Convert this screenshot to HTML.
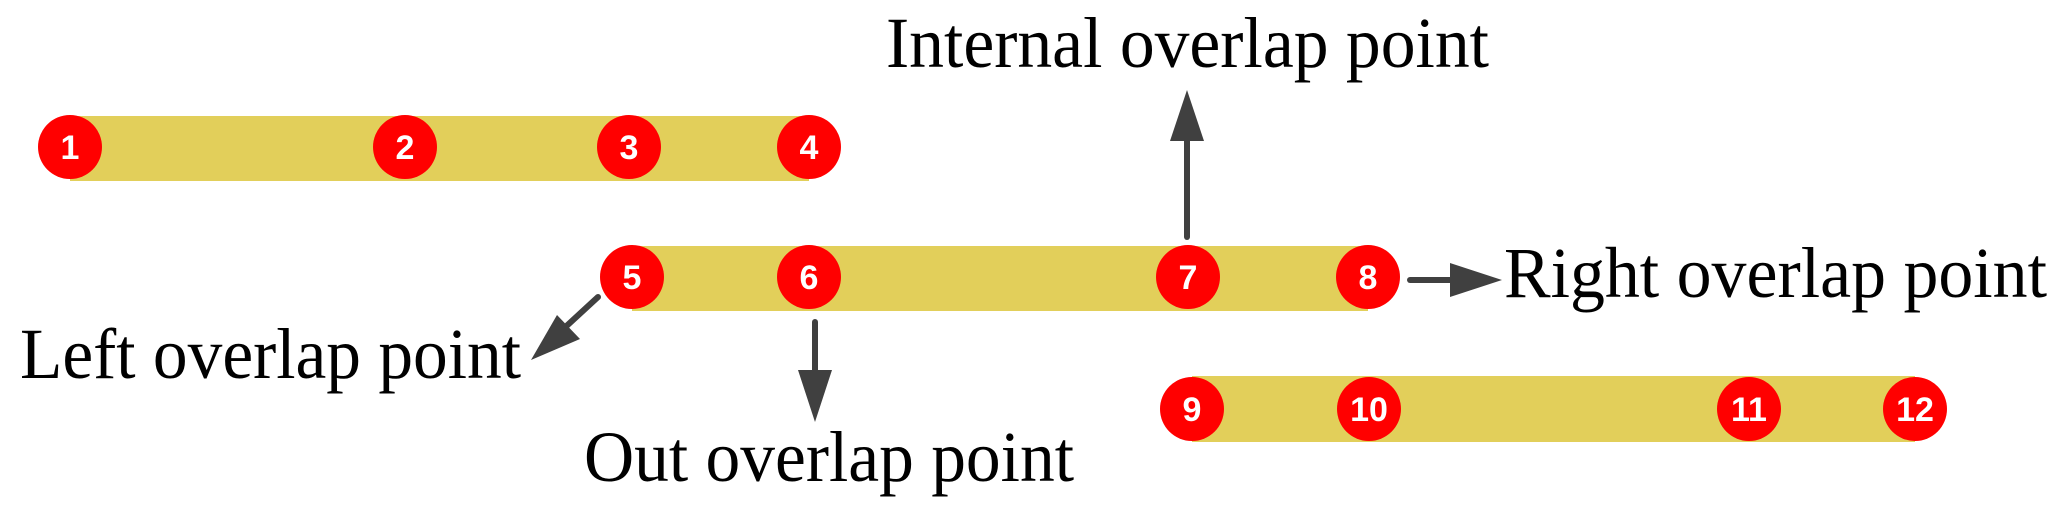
<!DOCTYPE html>
<html><head><meta charset="utf-8"><style>
html,body{margin:0;padding:0;background:#fff;}
svg{display:block;}
.n{font-family:"Liberation Sans",Arial,sans-serif;font-weight:bold;font-size:34px;fill:#fff;text-anchor:middle;}
.t{font-family:"Liberation Serif","Times New Roman",serif;font-size:72px;fill:#000;}
</style></head><body>
<svg width="2067" height="521" viewBox="0 0 2067 521" xmlns="http://www.w3.org/2000/svg">
<g fill="#e2cf5a">
<rect x="70" y="116" width="739" height="65"/>
<rect x="632" y="246" width="736" height="65"/>
<rect x="1192" y="376" width="723" height="66"/>
</g>
<g fill="#f00">
<circle cx="70" cy="147" r="32"/><circle cx="405" cy="147" r="32"/><circle cx="629" cy="147" r="32"/><circle cx="809" cy="147" r="32"/>
<circle cx="632" cy="277" r="32"/><circle cx="809" cy="277" r="32"/><circle cx="1188" cy="277" r="32"/><circle cx="1368" cy="277" r="32"/>
<circle cx="1192" cy="409" r="32"/><circle cx="1369" cy="409" r="32"/><circle cx="1749" cy="409" r="32"/><circle cx="1915" cy="409" r="32"/>
</g>
<g class="n">
<text x="70" y="159">1</text><text x="405" y="159">2</text><text x="629" y="159">3</text><text x="809" y="159">4</text>
<text x="632" y="289">5</text><text x="809" y="289">6</text><text x="1188" y="289">7</text><text x="1368" y="289">8</text>
<text x="1192" y="421">9</text><text x="1369" y="421">10</text><text x="1749" y="421">11</text><text x="1915" y="421">12</text>
</g>
<g stroke="#404040" stroke-width="6" stroke-linecap="round" fill="none">
<line x1="1187" y1="237" x2="1187" y2="138"/>
<line x1="1410" y1="280" x2="1455" y2="280"/>
<line x1="598" y1="297" x2="560" y2="332"/>
<line x1="815" y1="322" x2="815" y2="372"/>
</g>
<g fill="#404040">
<polygon points="1187,90 1170,141 1204,141"/>
<polygon points="1502,280 1450,263 1450,297"/>
<polygon points="531,360 557,315 580,339"/>
<polygon points="815,422 798,370 832,370"/>
</g>
<text class="t" x="886" y="67" textLength="603" lengthAdjust="spacingAndGlyphs">Internal overlap point</text>
<text class="t" x="1504" y="297" textLength="543" lengthAdjust="spacingAndGlyphs">Right overlap point</text>
<text class="t" x="20" y="378" textLength="501" lengthAdjust="spacingAndGlyphs">Left overlap point</text>
<text class="t" x="584" y="481" textLength="490" lengthAdjust="spacingAndGlyphs">Out overlap point</text>
</svg>
</body></html>
